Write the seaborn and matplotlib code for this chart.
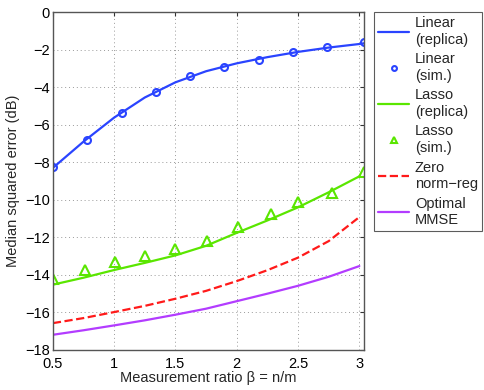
import numpy as np
import pandas as pd
import matplotlib
matplotlib.use("Agg")
import matplotlib.pyplot as plt
import seaborn as sns

# curve data
beta = [0.5, 0.75, 1.0, 1.25, 1.5, 1.75, 2.0, 2.25, 2.5, 2.75, 3.0]
linear_replica = [-8.3, -6.9, -5.62, -4.55, -3.74, -3.15, -2.73, -2.4, -2.12, -1.89, -1.7]
lasso_replica = [-14.52, -14.15, -13.74, -13.36, -12.96, -12.45, -11.76, -11.1, -10.4, -9.6, -8.75]
zero_norm = [-16.57, -16.3, -15.98, -15.65, -15.27, -14.85, -14.33, -13.75, -13.08, -12.2, -10.92]
mmse = [-17.19, -16.95, -16.69, -16.42, -16.12, -15.8, -15.4, -15.0, -14.58, -14.1, -13.53]

# simulation points
beta_lin_sim = [0.5, 0.78, 1.06, 1.34, 1.62, 1.9, 2.18, 2.46, 2.74, 3.04]
linear_sim = [-8.24, -6.8, -5.36, -4.26, -3.39, -2.93, -2.56, -2.11, -1.85, -1.58]
beta_lasso_sim = [0.5, 0.76, 1.01, 1.25, 1.5, 1.76, 2.01, 2.28, 2.5, 2.78, 3.04]
lasso_sim = [-14.2, -13.74, -13.31, -12.99, -12.62, -12.17, -11.45, -10.77, -10.12, -9.62, -8.5]

blue = "#2a44ff"
green = "#5ae600"
red = "#ff1a1a"
purple = "#b33cff"

sns.set_style("white")
plt.rcParams["font.family"] = ["Liberation Sans", "DejaVu Sans"]
plt.rcParams["font.size"] = 10.5

fig = plt.figure(figsize=(4.85, 3.9), dpi=100)
ax = fig.add_axes([0.109, 0.1026, 0.642, 0.8664])

sns.lineplot(x=beta + [3.04], y=linear_replica + [-1.66], ax=ax, color=blue, lw=1.6,
             label="Linear\n(replica)")
sns.lineplot(x=beta_lin_sim, y=linear_sim, ax=ax, color=blue, marker="o", linestyle="none",
             markersize=5, markerfacecolor="none", markeredgecolor=blue, markeredgewidth=1.5,
             label="Linear\n(sim.)")
sns.lineplot(x=beta, y=lasso_replica, ax=ax, color=green, lw=1.6, label="Lasso\n(replica)")
sns.lineplot(x=beta_lasso_sim, y=lasso_sim, ax=ax, color=green, marker="^", linestyle="none",
             markersize=6.5, markerfacecolor="none", markeredgecolor=green, markeredgewidth=1.5,
             label="Lasso\n(sim.)")
sns.lineplot(x=beta, y=zero_norm, ax=ax, color=red, lw=1.6, linestyle="--",
             dashes=(3, 2.5), label="Zero\nnorm\u2212reg")
sns.lineplot(x=beta, y=mmse, ax=ax, color=purple, lw=1.6, label="Optimal\nMMSE")

ax.set_xlim(0.5, 3.04)
ax.set_ylim(-18, 0)
ax.set_xticks([0.5, 1, 1.5, 2, 2.5, 3])
ax.set_xticklabels(["0.5", "1", "1.5", "2", "2.5", "3"])
ax.set_yticks(np.arange(-18, 1, 2))
ax.grid(True, linestyle=(0, (1, 3)), color="#999999", lw=0.7)
ax.tick_params(direction="in", top=True, right=True, length=3, width=0.8,
               labelsize=10.5, pad=2, colors="#333333", labelcolor="black")
ax.tick_params(axis="x", pad=5)
for s in ax.spines.values():
    s.set_color("#555555")
    s.set_linewidth(1.0)

ax.set_xlabel("Measurement ratio \u03b2 = n/m", fontsize=10.5, labelpad=0)
ax.set_ylabel("Median squared error (dB)", fontsize=10.5, labelpad=4)

leg = ax.legend(loc="upper left", bbox_to_anchor=(374 / 485, 1 - 12 / 390),
                bbox_transform=fig.transFigure, frameon=True, fancybox=False,
                fontsize=10.5, handlelength=2.1, handletextpad=0.4, labelspacing=0.4,
                borderpad=0.3, borderaxespad=0, markerscale=0.7)
leg.get_frame().set_edgecolor("#333333")
leg.get_frame().set_linewidth(0.8)

fig.savefig("out.png", dpi=100)
